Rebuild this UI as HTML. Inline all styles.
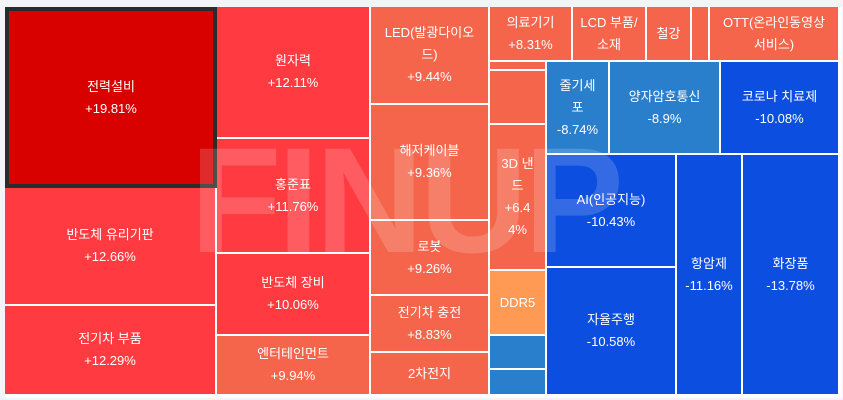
<!DOCTYPE html>
<html><head><meta charset="utf-8"><style>
html,body{margin:0;padding:0;}
body{width:843px;height:400px;background:#f3f4f8;position:relative;overflow:hidden;font-family:"Liberation Sans","Noto Sans CJK KR",sans-serif;}
.c{position:absolute;box-sizing:border-box;color:#fff;font-size:13px;line-height:22px;display:flex;align-items:center;justify-content:center;text-align:center;border-right:2px solid #fff;border-bottom:2px solid #fff;overflow:hidden;}
.r{background:#ff3b41}.d{background:#d90000}.o{background:#f5654b}.p{background:#ff9a55}.b{background:#2a7fcd}.n{background:#0b4ee0}
#wm{position:absolute;left:190px;top:115px;font-size:150px;font-weight:bold;color:rgba(255,255,255,0.17);letter-spacing:-4px;pointer-events:none;line-height:170px;}
</style></head><body>
<div style="position:absolute;left:5px;top:7px;width:837px;height:391px;background:#fff;"></div>
<div class="c d" style="left:5px;top:7px;width:212px;height:181px;border:4px solid #2b2b2b;">전력설비<br>+19.81%</div>
<div class="c r" style="left:5px;top:188px;width:212px;height:118px;">반도체 유리기판<br>+12.66%</div>
<div class="c r" style="left:5px;top:306px;width:212px;height:90px;">전기차 부품<br>+12.29%</div>
<div class="c r" style="left:217px;top:7px;width:154px;height:132px;">원자력<br>+12.11%</div>
<div class="c r" style="left:217px;top:139px;width:154px;height:115px;">홍준표<br>+11.76%</div>
<div class="c r" style="left:217px;top:254px;width:154px;height:82px;">반도체 장비<br>+10.06%</div>
<div class="c o" style="left:217px;top:336px;width:154px;height:60px;">엔터테인먼트<br>+9.94%</div>
<div class="c o" style="left:371px;top:7px;width:119px;height:98px;">LED(발광다이오<br>드)<br>+9.44%</div>
<div class="c o" style="left:371px;top:105px;width:119px;height:116px;">해저케이블<br>+9.36%</div>
<div class="c o" style="left:371px;top:221px;width:119px;height:75px;">로봇<br>+9.26%</div>
<div class="c o" style="left:371px;top:296px;width:119px;height:57px;">전기차 충전<br>+8.83%</div>
<div class="c o" style="left:371px;top:353px;width:119px;height:43px;">2차전지</div>
<div class="c o" style="left:490px;top:7px;width:83px;height:55px;">의료기기<br>+8.31%</div>
<div class="c o" style="left:573px;top:7px;width:74px;height:55px;">LCD 부품/<br>소재</div>
<div class="c o" style="left:647px;top:7px;width:45px;height:55px;">철강</div>
<div class="c o" style="left:692px;top:7px;width:18px;height:55px;"></div>
<div class="c o" style="left:710px;top:7px;width:130px;height:55px;">OTT(온라인동영상<br>서비스)</div>
<div class="c o" style="left:490px;top:62px;width:57px;height:9px;"></div>
<div class="c o" style="left:490px;top:71px;width:57px;height:54px;"></div>
<div class="c o" style="left:490px;top:125px;width:57px;height:146px;">3D 낸<br>드<br>+6.4<br>4%</div>
<div class="c p" style="left:490px;top:271px;width:57px;height:65px;">DDR5</div>
<div class="c b" style="left:490px;top:336px;width:57px;height:34px;"></div>
<div class="c b" style="left:490px;top:370px;width:57px;height:26px;"></div>
<div class="c b" style="left:547px;top:62px;width:63px;height:93px;">줄기세<br>포<br>-8.74%</div>
<div class="c b" style="left:610px;top:62px;width:111px;height:93px;">양자암호통신<br>-8.9%</div>
<div class="c n" style="left:721px;top:62px;width:119px;height:93px;">코로나 치료제<br>-10.08%</div>
<div class="c n" style="left:547px;top:155px;width:130px;height:113px;">AI(인공지능)<br>-10.43%</div>
<div class="c n" style="left:547px;top:268px;width:130px;height:128px;">자율주행<br>-10.58%</div>
<div class="c n" style="left:677px;top:155px;width:66px;height:241px;">항암제<br>-11.16%</div>
<div class="c n" style="left:743px;top:155px;width:97px;height:241px;">화장품<br>-13.78%</div>
<div id="wm">FINUP</div>
</body></html>
